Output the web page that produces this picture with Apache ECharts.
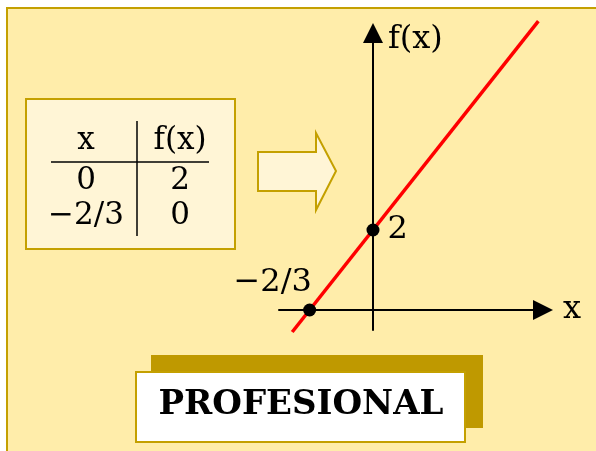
<!DOCTYPE html>
<html>
<head>
<meta charset="utf-8">
<script src="https://cdn.jsdelivr.net/npm/echarts@6/dist/echarts.min.js"></script>
<style>
  html, body { margin: 0; padding: 0; background: #fff; }
  #mainChart { width: 596px; height: 451px; }
</style>
</head>
<body>
<div id="mainChart"></div>
<script>
// tabel nilai
var tableHead = ["x", "f(x)"];
var tableX = ["0", "\u22122/3"];
var tableY = ["2", "0"];

// titik potong sumbu
var pointX = [0, -2 / 3];
var pointY = [2, 0];
var pointLabel = ["2", "\u22122/3"];

// ujung garis merah f(x) = 3x + 2
var lineX = [-0.85, 1.74];
var lineY = [-0.55, 7.22];

var gold = "#C4A000";
var serif = "DejaVu Serif";

function txt(s, x, y, size, weight) {
    return {
        type: "text", x: x, y: y,
        style: {
            text: s, fill: "#000", font: (weight || "normal") + " " + size + "px '" + serif + "'",
            textAlign: "center", textVerticalAlign: "middle"
        }
    };
}

var graphics = [
    { type: "rect", shape: { x: 7, y: 8, width: 600, height: 450 }, style: { fill: "#FFEDAA", stroke: gold, lineWidth: 2 }, z: -10 },
    { type: "rect", shape: { x: 26, y: 99, width: 209, height: 150 }, style: { fill: "#FFF5D6", stroke: gold, lineWidth: 2 } },
    { type: "line", shape: { x1: 51, y1: 162, x2: 209, y2: 162 }, style: { stroke: "#000", lineWidth: 1.5 } },
    { type: "line", shape: { x1: 137, y1: 121, x2: 137, y2: 236 }, style: { stroke: "#000", lineWidth: 1.5 } },
    {
        type: "polygon",
        shape: { points: [[258, 152], [316, 152], [316, 133], [336, 171], [316, 210], [316, 191], [258, 191]] },
        style: { fill: "#FFF5D6", stroke: gold, lineWidth: 2 }
    },
    { type: "rect", shape: { x: 151, y: 355, width: 332, height: 73 }, style: { fill: "#BF9900" } },
    { type: "rect", shape: { x: 136, y: 372, width: 329, height: 70 }, style: { fill: "#fff", stroke: gold, lineWidth: 2 } }
];
var cx = [86, 180];
var rows = [141, 181, 216];
for (var i = 0; i < 2; i++) {
    graphics.push(txt(tableHead[i], cx[i], rows[0], 31));
    graphics.push(txt(tableX[i], cx[0], rows[i + 1], 31));
    graphics.push(txt(tableY[i], cx[1], rows[i + 1], 31));
}
graphics.push(txt("PROFESIONAL", 301, 405, 34, "bold"));

var pts = [];
for (var k = 0; k < pointX.length; k++) pts.push([pointX[k], pointY[k]]);

var n = echarts.init(document.getElementById("mainChart"));
n.setOption({
    backgroundColor: "#fff",
    animation: false,
    graphic: graphics,
    grid: { left: 279, right: 53, top: 33, bottom: 121 },
    xAxis: {
        type: "value", min: -0.989, max: 1.789,
        name: "x", nameLocation: "end", nameGap: 20,
        nameTextStyle: { fontFamily: serif, fontSize: 32, color: "#000", verticalAlign: "middle" },
        axisLine: { onZero: true, lineStyle: { color: "#000", width: 2 }, symbol: ["none", "triangle"], symbolSize: [20, 20] },
        axisTick: { show: false }, axisLabel: { show: false }, splitLine: { show: false }
    },
    yAxis: {
        type: "value", min: -0.5, max: 6.925,
        name: "f(x)", nameLocation: "end", nameGap: 9,
        nameTextStyle: { fontFamily: serif, fontSize: 32, color: "#000", align: "left", verticalAlign: "top", padding: [0, 0, 0, 15] },
        axisLine: { onZero: true, lineStyle: { color: "#000", width: 2 }, symbol: ["none", "triangle"], symbolSize: [20, 20] },
        axisTick: { show: false }, axisLabel: { show: false }, splitLine: { show: false }
    },
    series: [{
        type: "line", clip: false, symbol: "none",
        lineStyle: { color: "#FF0000", width: 3.5 },
        data: [[lineX[0], lineY[0]], [lineX[1], lineY[1]]]
    }, {
        type: "scatter", symbolSize: 13, itemStyle: { color: "#000", opacity: 1 }, z: 5,
        data: [
            { value: pts[0], label: { show: true, formatter: pointLabel[0], position: "right", distance: 8 } },
            { value: pts[1], label: { show: true, formatter: pointLabel[1], position: "top", offset: [-37, 0] } }
        ],
        label: { fontFamily: serif, fontSize: 32, color: "#000" }
    }]
});
</script>
</body>
</html>
